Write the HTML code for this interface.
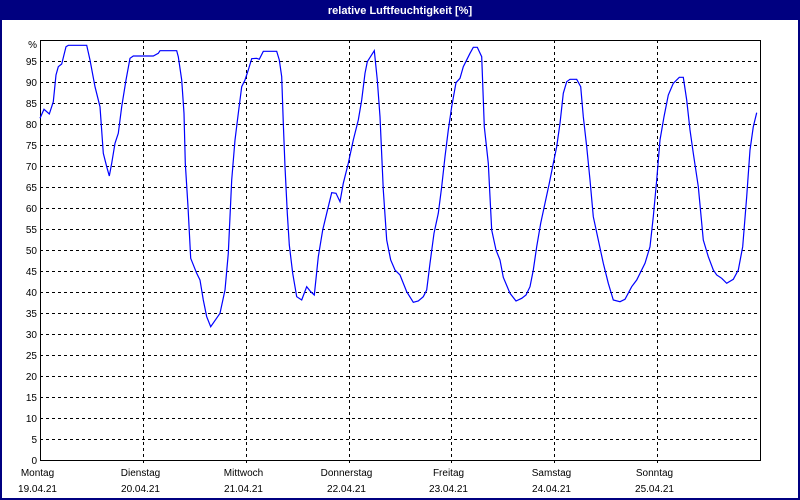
<!DOCTYPE html>
<html><head><meta charset="utf-8"><style>
body{margin:0;background:#fff;}
svg{display:block;font-family:"Liberation Sans",sans-serif;}
</style></head><body>
<svg id="s" width="800" height="500" xmlns="http://www.w3.org/2000/svg">
<rect x="0" y="0" width="800" height="500" fill="#fff"/>
<rect x="1" y="1" width="798" height="498" fill="none" stroke="#000080" stroke-width="2"/>
<rect x="0" y="0" width="800" height="20" fill="#000080"/>
<text x="400" y="14" fill="#fff" font-size="11" font-weight="bold" text-anchor="middle">relative Luftfeuchtigkeit [%]</text>
<g id="grid"></g>
<rect x="40.5" y="40.5" width="720" height="420" fill="none" stroke="#000" stroke-width="1"/>
<polyline id="line" fill="none" stroke="#0000ff" stroke-width="1.2"/>
</svg>
<script>
var s=document.getElementById('grid'),ns='http://www.w3.org/2000/svg',h='';
for(var v=5;v<=95;v+=5){var y=460-4.2*v;h+='<line x1="40" x2="760" y1="'+(Math.round(y)+0.5)+'" y2="'+(Math.round(y)+0.5)+'" stroke="#000" stroke-dasharray="3,3"/>';}
for(var v=0;v<=95;v+=5){var y=460-4.2*v;h+='<text x="37" y="'+(y+4)+'" font-size="10" text-anchor="end">'+v+'</text>';}
h+='<text x="37" y="48" font-size="10" text-anchor="end">%</text>';
var days=[['Montag','19.04.21'],['Dienstag','20.04.21'],['Mittwoch','21.04.21'],['Donnerstag','22.04.21'],['Freitag','23.04.21'],['Samstag','24.04.21'],['Sonntag','25.04.21']];
for(var i=0;i<7;i++){var x=Math.round(40+i*102.86)+0.5;
if(i>0)h+='<line x1="'+x+'" x2="'+x+'" y1="40" y2="466" stroke="#000" stroke-dasharray="3,3"/>';
h+='<text x="'+(x-3)+'" y="476" font-size="10" text-anchor="middle">'+days[i][0]+'</text>';
h+='<text x="'+(x-3)+'" y="492" font-size="10" text-anchor="middle">'+days[i][1]+'</text>';}
s.innerHTML=h;
var z4=[0,235,12,208,28,222,40,185,48,105,55,80,65,72,78,20,85,16,140,16,150,60,165,140,180,200,190,340,200,380,208,408,215,370,225,310,235,280,245,200,258,120,270,55,280,48,340,48,355,40,360,32,410,32,415,50,425,120,432,220,436,370,444,500,452,655,470,700,480,720,490,780,500,830,512,860,540,820,555,750,565,640,575,420,585,300,595,220,605,140,615,120,625,90,635,56,650,55,658,58,670,34,710,34,718,60,725,110,730,250,735,380,742,520,748,615];
var z5=[0,70,10,230,15,350,20,470,28,600,38,700,50,770,65,780,80,740,92,755,103,765,115,650,128,570,140,520,155,458,168,460,180,485,190,430,205,370,220,300,235,240,245,180,255,100,262,65,283,32,292,120,300,230,310,450,320,600,332,660,345,690,360,705,380,755,400,787,415,783,430,770,440,750,450,670,462,580,475,520,485,440,495,350,505,270,515,200,528,128,540,115,550,80,570,40,580,22,592,22,605,50,613,260,625,370,635,570,648,630,660,660,670,712,690,760,708,783,725,775,738,765,750,740];
var z6=[0,775,18,765,30,740,40,690,50,620,62,550,75,490,88,430,100,370,110,320,120,250,130,160,140,125,150,118,170,118,182,140,190,230,200,320,210,420,220,530,235,600,250,670,265,730,280,780,300,785,315,778,335,740,350,720,375,670,390,620,400,530,410,420,420,300,432,230,445,165,460,130,478,112,490,112,500,180,510,270,520,340,535,440,550,600,565,650,580,690,590,705,605,715,620,730,640,718,655,690,668,620,680,470,690,330,700,260,710,218];
var pts=[];
function add(a,ox,oy,maxx){for(var i=0;i<a.length;i+=2){var x=ox+a[i]/3,y=oy+a[i+1]/3;if(pts.length&&x<=pts[pts.length-1][0])continue;pts.push([x,y]);}}
add(z4,40,40);add(z5,280,40);add(z6,520,40);
document.getElementById('line').setAttribute('points',pts.map(function(p){return p[0].toFixed(1)+','+p[1].toFixed(1)}).join(' '));
</script>
</body></html>
